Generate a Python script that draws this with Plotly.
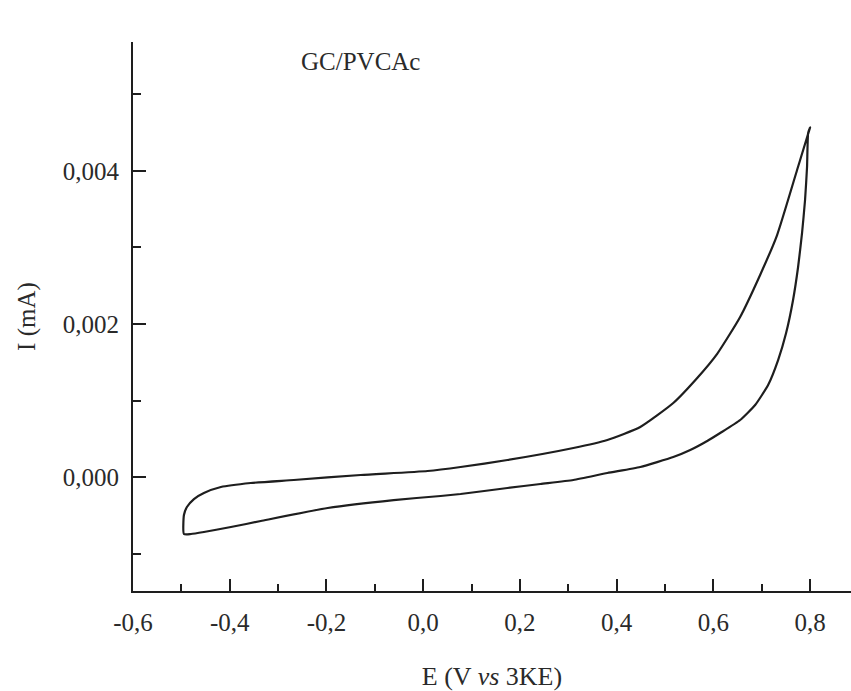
import plotly.graph_objects as go

# Forward (anodic) scan, from the left vertex up to the 0.8 V vertex
E_forward = [-0.4947, -0.4885, -0.4740, -0.4534, -0.4183, -0.3564, -0.2676, -0.1292,
             0.0091, 0.0773, 0.1743, 0.3106, 0.3808, 0.4489, 0.5171, 0.5666, 0.6079,
             0.6554, 0.6967, 0.7318, 0.7731, 0.8000]
I_forward = [-0.000497, -0.000392, -0.000288, -0.000209, -0.000131, -0.0000784, -0.0000392,
             0.0000261, 0.0000784, 0.000131, 0.000222, 0.000379, 0.000484, 0.000654, 0.000967,
             0.001294, 0.001610, 0.002092, 0.002641, 0.003163, 0.004013, 0.004570]

# Reverse scan, from the 0.8 V vertex back to the left vertex
E_reverse = [0.7960, 0.7937, 0.7896, 0.7834, 0.7752, 0.7648, 0.7504, 0.7339, 0.7132,
             0.6864, 0.6554, 0.6141, 0.5873, 0.5522, 0.5171, 0.4489, 0.3808, 0.3106,
             0.2424, 0.1743, 0.0773, 0.0360, -0.0611, -0.1974, -0.3357, -0.3976,
             -0.4534, -0.4802, -0.4947, -0.4947]
I_reverse = [0.004497, 0.004052, 0.003621, 0.003190, 0.002745, 0.002314, 0.001882, 0.001529,
             0.001203, 0.000941, 0.000745, 0.000575, 0.000471, 0.000353, 0.000261, 0.000131,
             0.0000523, -0.0000392, -0.0000915, -0.000144, -0.000222, -0.000248, -0.000301,
             -0.000405, -0.000575, -0.000654, -0.000719, -0.000745, -0.000745, -0.000497]

x_tickvals = [-0.6, -0.4, -0.2, 0.0, 0.2, 0.4, 0.6, 0.8]
x_ticktext = ["-0,6", "-0,4", "-0,2", "0,0", "0,2", "0,4", "0,6", "0,8"]
x_minor = [-0.5, -0.3, -0.1, 0.1, 0.3, 0.5, 0.7]
y_tickvals = [0.000, 0.002, 0.004]
y_ticktext = ["0,000", "0,002", "0,004"]
y_minor = [-0.001, 0.001, 0.003, 0.005]

FONT = "Liberation Serif"
INK = "#1e1e1e"

fig = go.Figure()
fig.add_trace(go.Scatter(
    x=E_forward + E_reverse, y=I_forward + I_reverse,
    mode="lines", line=dict(color=INK, width=2.2, shape="spline", smoothing=0.5),
    showlegend=False, hoverinfo="skip"))

fig.update_layout(
    width=851, height=691,
    margin=dict(l=133, r=0, t=42, b=100),
    paper_bgcolor="white", plot_bgcolor="white",
    font=dict(family=FONT, size=25, color="#2a2a2a"),
    xaxis=dict(
        range=[-0.6, 0.8846], showgrid=False, zeroline=False,
        showline=True, linecolor=INK, linewidth=2,
        tickmode="array", tickvals=x_tickvals, ticktext=x_ticktext,
        ticks="inside", ticklen=12, tickwidth=2, tickcolor=INK,
        ticklabelstandoff=8,
        minor=dict(tickmode="array", tickvals=x_minor, ticks="inside",
                   ticklen=7, tickwidth=2, tickcolor=INK),
        title=dict(text="E (V <i>vs</i> 3KE)", font=dict(family=FONT, size=26),
                   standoff=32),
    ),
    yaxis=dict(
        range=[-0.00149, 0.005686], showgrid=False, zeroline=False,
        showline=True, linecolor=INK, linewidth=2,
        tickmode="array", tickvals=y_tickvals, ticktext=y_ticktext,
        ticks="inside", ticklen=13, tickwidth=2, tickcolor=INK,
        ticklabelstandoff=7,
        minor=dict(tickmode="array", tickvals=y_minor, ticks="inside",
                   ticklen=8, tickwidth=2, tickcolor=INK),
        title=dict(text="I (mA)", font=dict(family=FONT, size=25), standoff=20),
    ),
    annotations=[dict(
        x=-0.1292, y=0.005425, xref="x", yref="y",
        text="GC/PVCAc", showarrow=False, xanchor="center", yanchor="middle",
        font=dict(family=FONT, size=25, color="#2a2a2a"))],
)

fig.write_html("out.html")
